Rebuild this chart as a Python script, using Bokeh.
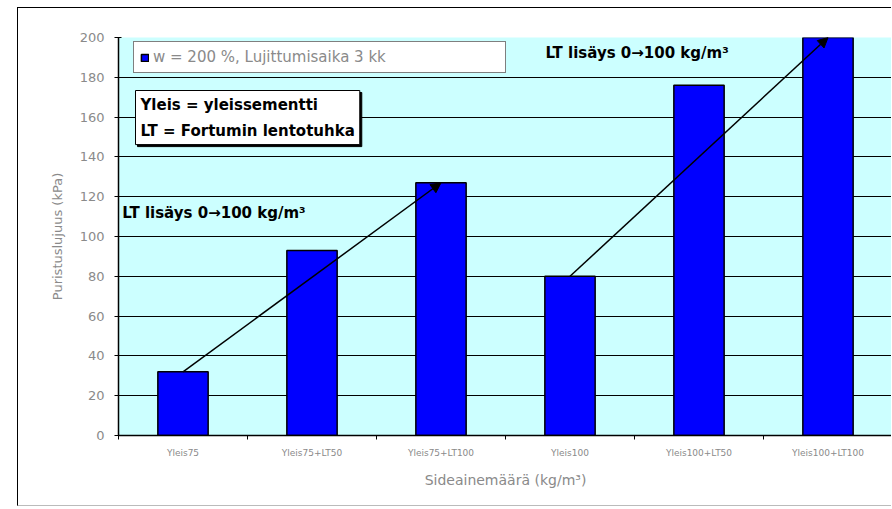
from bokeh.plotting import figure
from bokeh.models import (Range1d, FixedTicker, Arrow, NormalHead, Label, Legend,
                          LegendItem, ColumnDataSource)
from bokeh.embed import file_html
from bokeh.resources import INLINE

# ---- data ----
categories = ["Yleis75", "Yleis75+LT50", "Yleis75+LT100",
              "Yleis100", "Yleis100+LT50", "Yleis100+LT100"]
strength = [32, 93, 127, 80, 176, 200]
y_ticks = [0, 20, 40, 60, 80, 100, 120, 140, 160, 180, 200]
series_name = "w = 200 %, Lujittumisaika 3 kk"
arrow_pairs = [(0, 2), (3, 5)]
arrow_text = "LT lisäys 0→100 kg/m³"
note_lines = ["Yleis = yleissementti", "LT = Fortumin lentotuhka"]
x_title = "Sideainemäärä (kg/m³)"
y_title = "Puristuslujuus (kPa)"

xs = list(range(len(categories)))
grey = "#8a8a8a"
FONT = "DejaVu Sans"

p = figure(width=874, height=499, output_backend="svg", toolbar_location=None,
           x_range=Range1d(-0.5, len(categories) - 0.5), y_range=Range1d(0, 200),
           min_border_left=100, min_border_right=0, min_border_top=29,
           min_border_bottom=72, background_fill_color="#CCFFFF",
           border_fill_color="white", outline_line_color=None)
p.styles = {"border-left": "1px solid black", "border-top": "1px solid black",
            "border-bottom": "1px solid #bbbbbb",
            "margin-left": "17px", "margin-top": "7px"}

src = ColumnDataSource(dict(x=xs, top=strength, cat=categories))
bars = p.vbar(x="x", top="top", width=0.39, source=src, fill_color="#0000FF",
              line_color="black", line_width=1.5)

# grid
p.xgrid.grid_line_color = None
p.ygrid.grid_line_color = "black"
p.ygrid.grid_line_width = 1
p.ygrid.ticker = FixedTicker(ticks=y_ticks)

# y axis
p.yaxis.ticker = FixedTicker(ticks=y_ticks)
p.yaxis.axis_label = y_title
p.yaxis.axis_label_text_font = FONT
p.yaxis.axis_label_text_font_style = "normal"
p.yaxis.axis_label_text_font_size = "13px"
p.yaxis.axis_label_text_color = grey
p.yaxis.axis_label_standoff = 12
p.yaxis.major_label_text_font = FONT
p.yaxis.major_label_text_font_size = "13px"
p.yaxis.major_label_text_color = grey
p.yaxis.major_label_standoff = 10
p.yaxis.major_tick_in = 3
p.yaxis.major_tick_out = 4
p.yaxis.minor_tick_line_color = None
p.yaxis.axis_line_color = "black"
p.yaxis.axis_line_width = 1.5
p.yaxis.major_tick_line_color = "black"

# x axis
p.xaxis.ticker = FixedTicker(ticks=xs, minor_ticks=[x - 0.5 for x in xs] + [xs[-1] + 0.5])
p.xaxis.major_label_overrides = {x: c for x, c in zip(xs, categories)}
p.xaxis.major_tick_in = 0
p.xaxis.major_tick_out = 0
p.xaxis.minor_tick_in = 0
p.xaxis.minor_tick_out = 4
p.xaxis.minor_tick_line_color = "black"
p.xaxis.axis_line_color = "black"
p.xaxis.axis_line_width = 1.5
p.xaxis.major_label_text_font = FONT
p.xaxis.major_label_text_font_size = "9px"
p.xaxis.major_label_text_color = grey
p.xaxis.major_label_standoff = 8
p.xaxis.axis_label = x_title
p.xaxis.axis_label_text_font = FONT
p.xaxis.axis_label_text_font_style = "normal"
p.xaxis.axis_label_text_font_size = "14px"
p.xaxis.axis_label_text_color = grey
p.xaxis.axis_label_standoff = 11

# arrows
for a, b in arrow_pairs:
    p.add_layout(Arrow(x_start=xs[a], y_start=strength[a], x_end=xs[b], y_end=strength[b],
                       line_color="black", line_width=1.5,
                       end=NormalHead(size=10, fill_color="black", line_color="black")))

# arrow labels
p.add_layout(Label(x=-0.47, y=112, text=arrow_text, text_font=FONT, text_font_style="bold",
                   text_font_size="15px", text_color="black", text_baseline="middle"))
p.add_layout(Label(x=2.81, y=192, text=arrow_text, text_font=FONT, text_font_style="bold",
                   text_font_size="15px", text_color="black", text_baseline="middle"))

# note box with shadow
note = "\n".join(note_lines)
for off, bg in [(2, "black"), (0, "white")]:
    p.add_layout(Label(x=17, y=345, x_units="screen", y_units="screen", x_offset=off,
                       y_offset=-off, text=note, text_font=FONT, text_font_style="bold",
                       text_font_size="15px", text_color="black", text_baseline="top",
                       text_align="left", text_line_height=1.45, padding=5,
                       background_fill_color=bg, background_fill_alpha=1.0,
                       border_line_color="black", border_line_width=1))

# legend
legend = Legend(items=[LegendItem(label=series_name, renderers=[bars])],
                location=(15, 362), orientation="horizontal",
                border_line_color="black", border_line_width=1.5,
                background_fill_color="white", background_fill_alpha=1.0,
                glyph_width=9, glyph_height=9, label_standoff=4, label_width=346,
                padding=6, margin=0, label_text_font=FONT, label_text_font_size="15px",
                label_text_color=grey)
p.add_layout(legend)

open("out.html", "w").write(file_html(p, INLINE))
